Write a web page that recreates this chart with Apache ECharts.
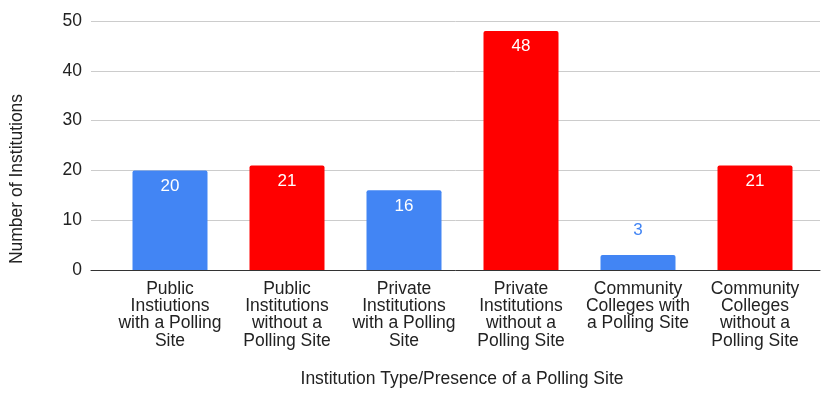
<!DOCTYPE html>
<html>
<head>
<meta charset="utf-8">
<script src="https://cdn.jsdelivr.net/npm/echarts@6/dist/echarts.min.js"></script>
<style>
html,body{margin:0;padding:0;background:#fff;}
#chart{width:823px;height:394px;}
</style>
</head>
<body>
<div id="chart"></div>
<script>
var categories = [
  "Public\nInstiutions\nwith a Polling\nSite",
  "Public\nInstitutions\nwithout a\nPolling Site",
  "Private\nInstitutions\nwith a Polling\nSite",
  "Private\nInstitutions\nwithout a\nPolling Site",
  "Community\nColleges with\na Polling Site",
  "Community\nColleges\nwithout a\nPolling Site"
];
var values = [20, 21, 16, 48, 3, 21];
var hasPollingSite = [true, false, true, false, true, false];
var yTicks = [0, 10, 20, 30, 40, 50];
var xTitle = "Institution Type/Presence of a Polling Site";
var yTitle = "Number of Institutions";

var BLUE = "#4285F4", RED = "#FF0000";
var FONT = "Liberation Sans, Arial, sans-serif";

var barData = values.map(function (v, i) {
  var item = {
    value: v,
    itemStyle: { color: hasPollingSite[i] ? BLUE : RED }
  };
  if (v < 6) {
    item.label = { position: "top", distance: 16, color: BLUE };
  }
  return item;
});

var chart = echarts.init(document.getElementById("chart"));
chart.setOption({
  animation: false,
  backgroundColor: "#fff",
  textStyle: { fontFamily: FONT },
  grid: [
    { left: 91, right: 3, top: 21, bottom: 124 },
    { left: 111.5, right: 9.5, top: 21, bottom: 124 }
  ],
  xAxis: [
    {
      gridIndex: 0, type: "value", min: 0, max: 1,
      axisLine: { show: true, lineStyle: { color: "#333", width: 1 } },
      axisTick: { show: false }, axisLabel: { show: false }, splitLine: { show: false }
    },
    {
      gridIndex: 1, type: "category", data: categories,
      axisLine: { show: false }, axisTick: { show: false },
      axisLabel: {
        interval: 0, margin: 10, color: "#222", fontSize: 17.5, lineHeight: 17.4,
        fontFamily: FONT, align: "center"
      }
    }
  ],
  yAxis: [
    {
      gridIndex: 0, type: "value", min: yTicks[0], max: yTicks[yTicks.length - 1], interval: 10,
      axisLine: { show: false }, axisTick: { show: false },
      axisLabel: { color: "#222", fontSize: 17.5, margin: 9, fontFamily: FONT },
      splitLine: { lineStyle: { color: "#cccccc", width: 1 } }
    },
    {
      gridIndex: 1, type: "value", min: yTicks[0], max: yTicks[yTicks.length - 1],
      show: false, splitLine: { show: false }
    }
  ],
  graphic: [
    {
      type: "text", x: 17.5, y: 179, rotation: Math.PI / 2,
      style: {
        text: yTitle, fill: "#222", font: "17.5px " + FONT,
        align: "center", verticalAlign: "middle"
      }
    },
    {
      type: "text", x: 462, y: 379,
      style: {
        text: xTitle, fill: "#222", font: "17.5px " + FONT,
        align: "center", verticalAlign: "middle"
      }
    }
  ],
  series: [
    {
      type: "bar", xAxisIndex: 1, yAxisIndex: 1,
      barWidth: 75,
      data: barData,
      itemStyle: { borderRadius: [2, 2, 0, 0] },
      label: {
        show: true, position: "insideTop", distance: 7,
        color: "#fff", fontSize: 17, fontFamily: FONT
      }
    }
  ]
});
</script>
</body>
</html>
